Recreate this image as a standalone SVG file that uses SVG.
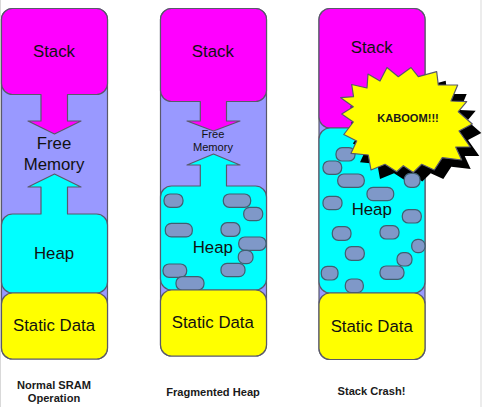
<svg xmlns="http://www.w3.org/2000/svg" width="482" height="407" viewBox="0 0 482 407">
<style>
text{font-family:"Liberation Sans",Arial,sans-serif;fill:#111;text-anchor:middle}
.big{font-size:16.8px}
.small{font-size:11.1px}
.cap{font-size:11.1px;font-weight:bold;fill:#1a1a1a}
.col,.stack,.heap,.data,.blob,.star{stroke:#59596b;stroke-width:1.2;stroke-linejoin:round}
.col{fill:#9999ff}
.stack{fill:#ff00ff}
.heap{fill:#00ffff}
.data{fill:#ffff00}
.blob{fill:#7f98c8;stroke:#3f5f70}
.star{fill:#ffff00}
.shadow{fill:#000}
.edge{stroke:#d9d9d9;stroke-width:1}
</style>
<defs>
<polygon id="burst" points="387,67.500 398.300,76.700 411,67.500 418.300,76.700 436.700,71.700 438.300,85 457.700,85 451,101 466.700,101.700 458.300,111.700 472.300,124 459,131 470.300,147 455.700,147 461.700,160 442.300,157.700 434.300,170 421.700,164.300 413.300,172.500 403.300,165.700 396.700,171.700 385,164.300 371,170 368.300,155 351,153.300 356.700,141 343.800,134.500 353.300,122 341.700,114 353.300,106.700 340.700,97.700 353.500,96.700 351.700,84.500 367,88 368,74 380,81"/>
</defs>
<rect width="482" height="407" fill="#fff"/>
<line class="edge" x1="0.500" y1="0" x2="0.500" y2="407"/>
<line class="edge" x1="481" y1="0" x2="481" y2="407"/>

<g id="normal-sram">
<rect class="col" x="1.500" y="8.500" width="106" height="350.500" rx="11"/>
<path class="stack" d="M12.500 8.500H96.500a11 11 0 0 1 11 11V83.500a11 11 0 0 1-11 11H67.500V121H81L54.500 134L28 121H41V94.500H12.500a11 11 0 0 1-11-11V19.500a11 11 0 0 1 11-11Z"/>
<path class="heap" d="M54.500 174L81 187H67.500V214H96.500a11 11 0 0 1 11 11V282a11 11 0 0 1-11 11H12.500a11 11 0 0 1-11-11V225a11 11 0 0 1 11-11H41V187H28Z"/>
<rect class="data" x="1.500" y="293" width="106" height="66" rx="11"/>
<text class="big" x="54" y="56.500">Stack</text>
<text class="big" x="54" y="149">Free</text>
<text class="big" x="54" y="169.500">Memory</text>
<text class="big" x="54" y="259">Heap</text>
<text class="big" x="54" y="331">Static Data</text>
<text class="cap" x="54" y="388.500">Normal SRAM</text>
<text class="cap" x="54" y="402">Operation</text>
</g>

<g id="fragmented-heap">
<rect class="col" x="160.500" y="8.500" width="106" height="347.500" rx="11"/>
<path class="stack" d="M171.500 8.500H255.500a11 11 0 0 1 11 11V90.500a11 11 0 0 1-11 11H226.500V121H240L213.500 131L187 121H200.300V101.500H171.500a11 11 0 0 1-11-11V19.500a11 11 0 0 1 11-11Z"/>
<path class="heap" d="M213.500 154L240 165H226.500V186H255.500a11 11 0 0 1 11 11V279a11 11 0 0 1-11 11H171.500a11 11 0 0 1-11-11V197a11 11 0 0 1 11-11H200.300V165H187Z"/>
<rect class="blob" x="164" y="194" width="19" height="13.300" rx="6"/>
<rect class="blob" x="223.300" y="194" width="27.400" height="13.300" rx="6"/>
<rect class="blob" x="243.700" y="207.300" width="19" height="13.300" rx="6"/>
<rect class="blob" x="165.300" y="223.300" width="27" height="13.600" rx="6"/>
<rect class="blob" x="221" y="222.700" width="19" height="13.600" rx="6"/>
<rect class="blob" x="238.700" y="237" width="27.300" height="13.300" rx="6"/>
<rect class="blob" x="238.300" y="250.300" width="14.700" height="13.400" rx="6"/>
<rect class="blob" x="221" y="263.300" width="24" height="13.400" rx="6"/>
<rect class="blob" x="163" y="264" width="23.700" height="13.300" rx="6"/>
<rect class="blob" x="176" y="276.700" width="28" height="13.300" rx="6"/>
<rect class="data" x="160.500" y="290" width="106" height="66" rx="11"/>
<text class="big" x="212.800" y="56.500">Stack</text>
<text class="small" x="213" y="137.700">Free</text>
<text class="small" x="213" y="151.300">Memory</text>
<text class="big" x="212.800" y="252.700">Heap</text>
<text class="big" x="212.800" y="328">Static Data</text>
<text class="cap" x="213" y="395.500">Fragmented Heap</text>
</g>

<g id="stack-crash">
<rect class="col" x="319" y="8.500" width="106" height="351" rx="11"/>
<rect class="stack" x="319" y="8.500" width="106" height="119.500" rx="11"/>
<rect class="heap" x="319" y="128" width="106" height="165" rx="11"/>
<use href="#burst" class="shadow" transform="translate(9 9)"/>
<rect class="blob" x="336" y="147.700" width="19" height="13.300" rx="6"/>
<rect class="blob" x="323" y="161" width="18.700" height="13.300" rx="6"/>
<rect class="blob" x="337.700" y="174" width="26.600" height="13.300" rx="6"/>
<rect class="blob" x="367" y="187.300" width="26.700" height="13.400" rx="6"/>
<rect class="blob" x="404.300" y="173.300" width="15.700" height="14" rx="6"/>
<rect class="blob" x="323" y="196.300" width="19" height="13.400" rx="6"/>
<rect class="blob" x="402.300" y="209.700" width="19" height="13.300" rx="6"/>
<rect class="blob" x="332.300" y="226.700" width="18.700" height="13.600" rx="6"/>
<rect class="blob" x="380" y="225.700" width="19" height="13.300" rx="6"/>
<rect class="blob" x="411.700" y="239.300" width="13.300" height="13.400" rx="6"/>
<rect class="blob" x="345.300" y="246.700" width="19" height="13.600" rx="6"/>
<rect class="blob" x="397" y="252.700" width="15" height="13.300" rx="6"/>
<rect class="blob" x="380" y="266" width="24" height="13.300" rx="6"/>
<rect class="blob" x="321.300" y="266.300" width="16.700" height="13.700" rx="6"/>
<rect class="blob" x="345.300" y="279" width="18" height="13.700" rx="6"/>
<rect class="data" x="319" y="293" width="106" height="66.500" rx="11"/>
<use href="#burst" class="star"/>
<text class="big" x="371.700" y="52.700">Stack</text>
<text class="big" x="371.700" y="215">Heap</text>
<text class="big" x="371.700" y="331.500">Static Data</text>
<text class="cap" x="408" y="122.300">KABOOM!!!</text>
<text class="cap" x="371.500" y="395">Stack Crash!</text>
</g>
</svg>
